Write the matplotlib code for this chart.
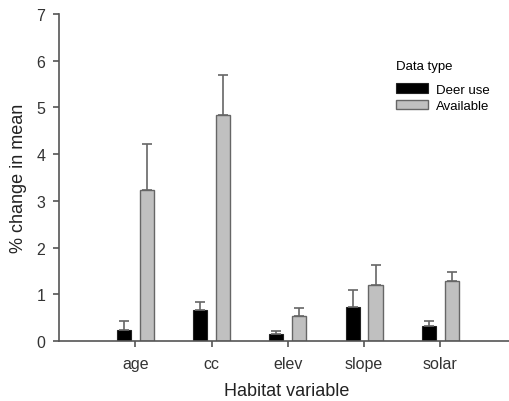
import matplotlib
matplotlib.use("Agg")
import matplotlib.pyplot as plt
import numpy as np

plt.rcParams['font.family'] = ['Liberation Sans', 'DejaVu Sans']

categories = ["age", "cc", "elev", "slope", "solar"]
deer_use = [0.24, 0.66, 0.16, 0.73, 0.33]
deer_err = [0.18, 0.17, 0.06, 0.36, 0.10]
available = [3.24, 4.84, 0.53, 1.20, 1.29]
avail_err = [0.98, 0.85, 0.17, 0.43, 0.19]

fig = plt.figure(figsize=(5.09, 4.02), dpi=100)
ax = fig.add_axes([0.116, 0.149, 0.884, 0.814])

x = np.arange(len(categories))
w = 0.185
off = 0.15
axis_col = "#555555"
ek = dict(ecolor="#666666", elinewidth=1.2, capsize=3.8, capthick=1.2)

ax.bar(x - off, deer_use, w, color="black", edgecolor="#222222", linewidth=0.8,
       yerr=[np.zeros(5), deer_err], error_kw=ek, label="Deer use", zorder=2)
ax.bar(x + off, available, w, color="#c0c0c0", edgecolor="#666666", linewidth=1.0,
       yerr=[np.zeros(5), avail_err], error_kw=ek, label="Available", zorder=2)

ax.set_xlim(-1.0, 4.9)
ax.set_ylim(0, 7)
ax.set_xticks(x)
ax.set_xticklabels(categories)
ax.set_yticks(range(0, 8))
ax.tick_params(axis='both', labelsize=11.5, colors="#333333", length=4, width=1.2)
ax.tick_params(axis='both', color=axis_col)
ax.tick_params(axis='x', pad=7)
ax.tick_params(axis='y', pad=6)
for s in ["top", "right"]:
    ax.spines[s].set_visible(False)
for s in ["left", "bottom"]:
    ax.spines[s].set_color(axis_col)
    ax.spines[s].set_linewidth(1.2)

ax.set_xlabel("Habitat variable", fontsize=13, color="#222222", va="center")
ax.xaxis.set_label_coords(0.505, -0.152)
ax.set_ylabel("% change in mean", fontsize=13, color="#222222", va="center")
ax.yaxis.set_label_coords(-0.09, 0.5)

leg = ax.legend(title="Data type", loc="upper left", bbox_to_anchor=(0.723, 0.895),
                frameon=False, fontsize=9.5, title_fontsize=9.5,
                handlelength=2.4, handleheight=0.75, handletextpad=0.6,
                labelspacing=0.3, alignment="left")
leg._legend_box.sep = 8

fig.savefig("out.png", dpi=100)
